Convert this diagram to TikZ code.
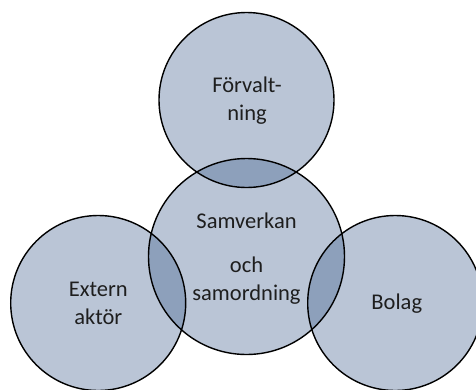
\documentclass[tikz,border=0pt]{standalone}
\usepackage{fontspec}
\setmainfont{Carlito}
\definecolor{circfill}{RGB}{63,94,141}
\definecolor{txt}{RGB}{30,30,30}
\begin{document}
\begin{tikzpicture}[x=1pt,y=-1pt,
  circ/.style={circle,fill=circfill,fill opacity=0.36,draw=none,inner sep=0pt},
  rim/.style={circle,draw=black,line width=1.4pt,inner sep=0pt},
  lbl/.style={font=\fontsize{22.5}{28}\selectfont,text=txt,align=center,inner sep=0pt}]
\useasboundingbox (0,0) rectangle (476,389);
\begin{scope}
\clip (0,0) rectangle (476,389);
\node[circ,minimum size=175pt] (top) at (246.5,100) {};
\node[circ,minimum size=196pt] (mid) at (246.5,256.5) {};
\node[circ,minimum size=175pt] (left) at (98.2,303) {};
\node[circ,minimum size=175pt] (right) at (395.2,303) {};
\node[rim,minimum size=175pt] at (top) {};
\node[rim,minimum size=196pt] at (mid) {};
\node[rim,minimum size=175pt] at (left) {};
\node[rim,minimum size=175pt] at (right) {};
\end{scope}
\node[lbl] (t1) at (247,101) {Förvalt-\\ning};
\node[lbl] (t2) at (246.5,221) {Samverkan};
\node[lbl] (t3) at (246.5,281) {och\\samordning};
\node[lbl] (t4) at (98.3,303) {Extern\\aktör};
\node[lbl] (t5) at (396.8,304) {Bolag};
\end{tikzpicture}
\end{document}
